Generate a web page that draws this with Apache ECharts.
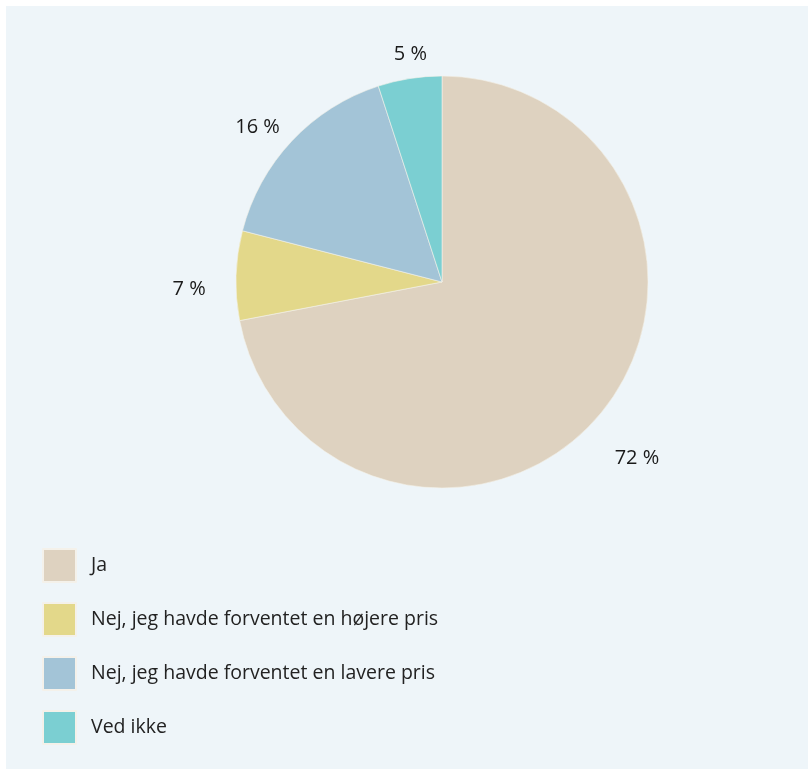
<!DOCTYPE html>
<html>
<head>
<meta charset="utf-8">
<script src="https://cdn.jsdelivr.net/npm/echarts@6/dist/echarts.min.js"></script>
<style>
  html, body { margin: 0; padding: 0; background: #ffffff; }
  #chart { width: 808px; height: 769px; }
</style>
</head>
<body>
<div id="chart"></div>
<script>
// Answer categories and their shares (percent)
const categories = [
  'Ja',
  'Nej, jeg havde forventet en højere pris',
  'Nej, jeg havde forventet en lavere pris',
  'Ved ikke'
];
const shares = [72, 7, 16, 5];
const sliceColors = ['#ded2c0', '#e3d88a', '#a3c4d7', '#7bcfd2'];
// small per-label nudges [dx, dy] applied to the percentage labels
const labelNudge = [[0, 0], [0, 0], [0, 3], [8, 7]];

const FONT = '"Open Sans", "Noto Sans", sans-serif';

const pieData = categories.map((name, i) => ({
  name,
  value: shares[i],
  itemStyle: { color: sliceColors[i] }
}));

// same values, invisible slices: only used to place the percentage labels
const labelRingData = categories.map((name, i) => ({
  name,
  value: shares[i],
  label: { offset: labelNudge[i] }
}));

const chart = echarts.init(document.getElementById('chart'), null, { renderer: 'canvas' });

chart.setOption({
  animation: false,
  backgroundColor: '#ffffff',
  graphic: [{
    type: 'rect',
    z: -10,
    shape: { x: 6, y: 6, width: 802, height: 763 },
    style: { fill: '#eef5f9' },
    silent: true
  }],
  legend: {
    orient: 'vertical',
    left: 42,
    top: 548,
    padding: 0,
    itemWidth: 33,
    itemHeight: 33,
    itemGap: 19,
    icon: 'rect',
    selectedMode: false,
    data: categories,
    textStyle: {
      fontFamily: FONT,
      fontSize: 19.5,
      color: '#222222',
      padding: [0, 0, 0, 10]
    }
  },
  series: [
    {
      // the slices
      type: 'pie',
      center: [442, 282],
      radius: [0, 206],
      startAngle: 90,
      clockwise: true,
      avoidLabelOverlap: false,
      silent: true,
      label: { show: false },
      labelLine: { show: false },
      itemStyle: { borderColor: '#f4f1ea', borderWidth: 0.6 },
      data: pieData
    },
    {
      // transparent ring carrying the percentage labels around the pie
      type: 'pie',
      center: [442, 297],
      radius: [240, 260],
      startAngle: 90,
      clockwise: true,
      avoidLabelOverlap: false,
      silent: true,
      legendHoverLink: false,
      itemStyle: { color: 'rgba(0,0,0,0)' },
      labelLine: { show: false },
      label: {
        show: true,
        position: 'inside',
        formatter: p => p.value + ' %',
        fontFamily: FONT,
        fontSize: 20,
        color: '#1a1a1a'
      },
      data: labelRingData
    }
  ]
});
</script>
</body>
</html>
